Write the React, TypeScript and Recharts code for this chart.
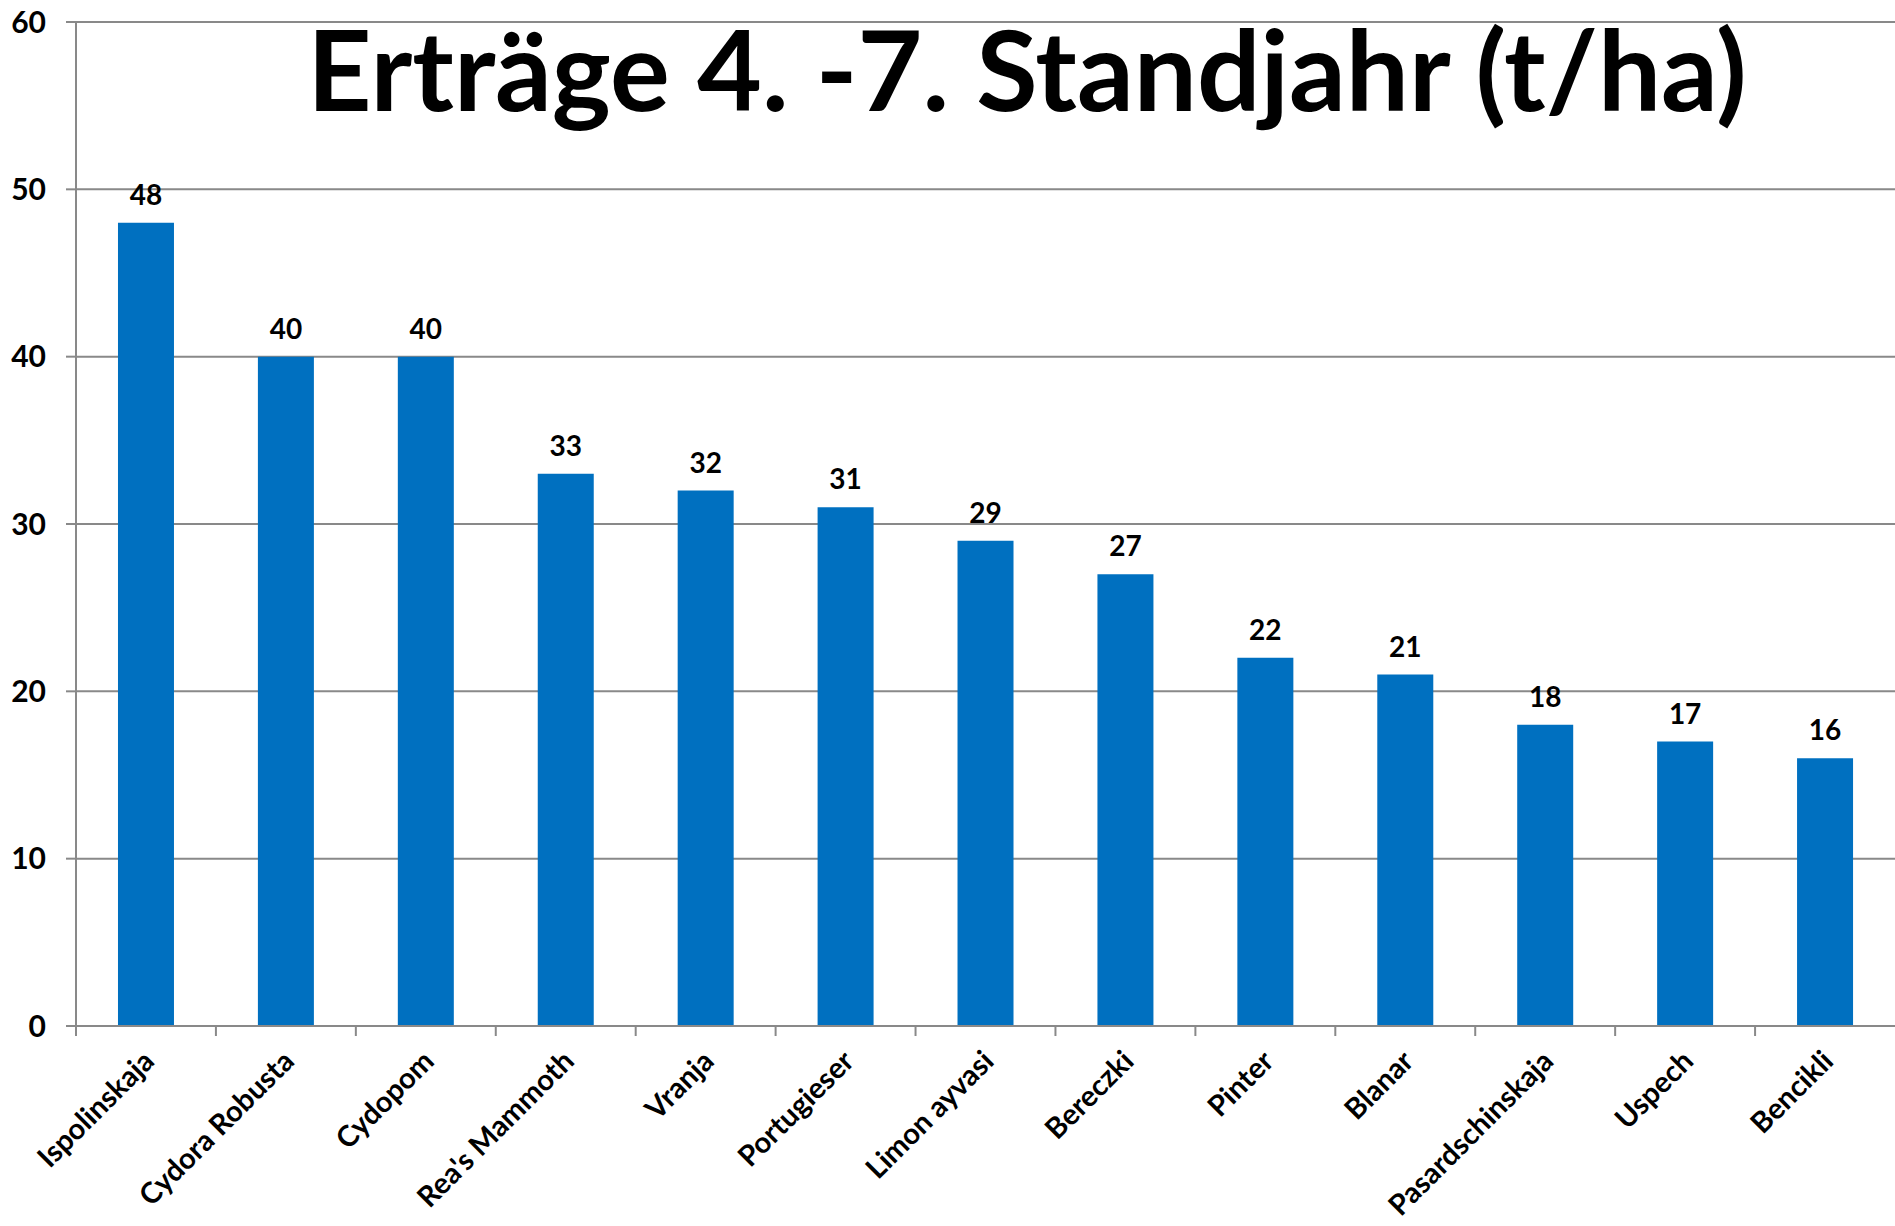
import React from "react";
import { Bar, BarChart, CartesianGrid, LabelList, XAxis, YAxis } from "recharts";

const VARIETIES = [
  "Ispolinskaja", "Cydora Robusta", "Cydopom", "Rea's Mammoth", "Vranja", "Portugieser",
  "Limon ayvasi", "Bereczki", "Pinter", "Blanar", "Pasardschinskaja", "Uspech", "Bencikli",
];
const YIELDS = [48, 40, 40, 33, 32, 31, 29, 27, 22, 21, 18, 17, 16];
const Y_TICKS = [0, 10, 20, 30, 40, 50, 60];
const TITLE = "Erträge 4. -7. Standjahr (t/ha)";

const W = 1895;
const H = 1226;
const AXIS_W = 76;
const XAXIS_H = 200;
const GRAY = "#898989";
const FONT = "Lato, 'Open Sans', sans-serif";

const data = VARIETIES.map((name, i) => ({ name, value: YIELDS[i] }));
const step = (W - AXIS_W) / VARIETIES.length;

function CategoryTick(props: any) {
  const { x, y, payload } = props;
  const tx = x + 10;
  const ty = y + 37;
  return (
    <g>
      <line x1={x - step / 2} x2={x - step / 2} y1={y} y2={y + 10} stroke={GRAY} strokeWidth={2} />
      <text
        x={tx}
        y={ty}
        transform={`rotate(-45 ${tx} ${ty})`}
        textAnchor="end"
        fontFamily={FONT}
        fontWeight={700}
        fontSize={29}
        fill="#000"
      >
        {payload.value}
      </text>
    </g>
  );
}

export default function App() {
  return (
    <div style={{ position: "absolute", left: 0, top: 0, width: W, height: H, background: "#fff" }}>
      <BarChart width={W} height={H} data={data} margin={{ top: 22, right: 0, bottom: 0, left: 0 }} barCategoryGap="30%">
        <CartesianGrid vertical={false} stroke={GRAY} strokeWidth={2} />
        <XAxis
          dataKey="name"
          interval={0}
          height={XAXIS_H}
          tickLine={false}
          tickSize={0}
          tickMargin={0}
          axisLine={{ stroke: GRAY, strokeWidth: 2 }}
          tick={<CategoryTick />}
        />
        <YAxis
          width={AXIS_W}
          domain={[0, 60]}
          ticks={Y_TICKS}
          interval={0}
          tickSize={10}
          tickMargin={20}
          tickLine={{ stroke: GRAY, strokeWidth: 2 }}
          axisLine={{ stroke: GRAY, strokeWidth: 2 }}
          tick={{ fill: "#000", fontFamily: FONT, fontWeight: 700, fontSize: 30 }}
        />
        <Bar dataKey="value" fill="#0070C0" isAnimationActive={false}>
          <LabelList dataKey="value" position="top" offset={18} fill="#000" fontFamily={FONT} fontWeight={700} fontSize={28} />
        </Bar>
      </BarChart>
      <div
        style={{
          position: "absolute",
          left: 0,
          width: 2054,
          top: -2,
          textAlign: "center",
          fontFamily: FONT,
          fontWeight: 700,
          fontSize: 112,
          lineHeight: "140px",
          color: "#000",
          pointerEvents: "none",
          whiteSpace: "nowrap",
        }}
      >
        {TITLE}
      </div>
    </div>
  );
}
